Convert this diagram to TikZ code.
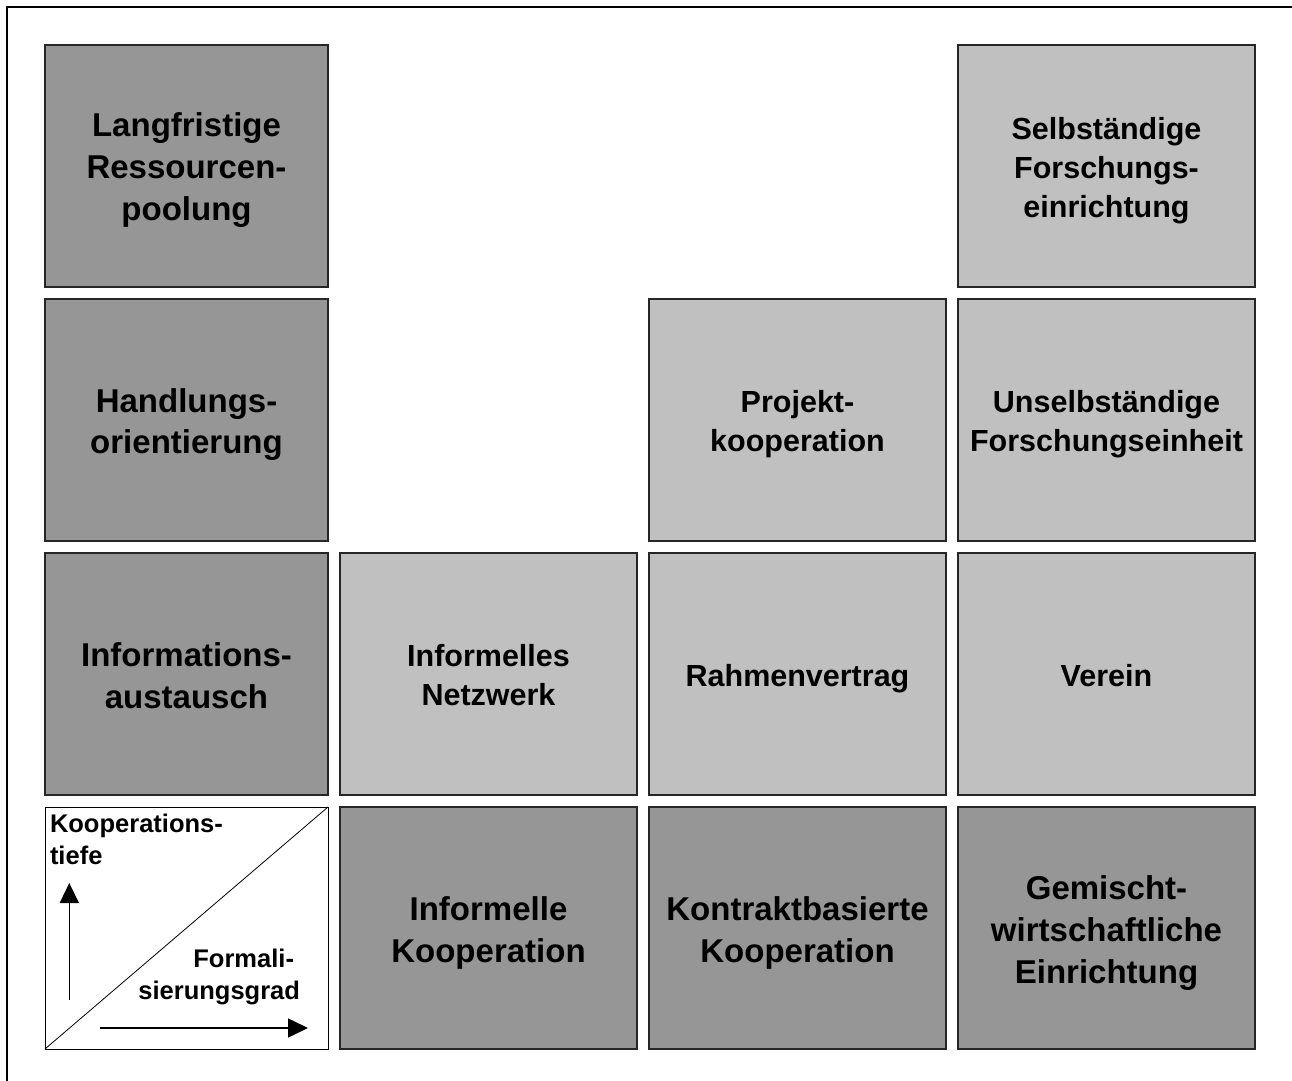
\documentclass[tikz,border=0pt]{standalone}
\usepackage{fontspec}
\setmainfont{Liberation Sans}
\usetikzlibrary{arrows.meta, positioning}
\definecolor{cellDark}{gray}{0.588}
\definecolor{cellLight}{gray}{0.753}
\newcommand{\celltext}[1]{\rule{0pt}{1em}#1\rule[-0.21em]{0pt}{0.21em}}
\tikzset{
  node distance=12bp,
  cell/.style={draw=black!85, line width=1.2bp, minimum width=297bp, minimum height=242bp, inner sep=0pt, outer sep=0pt, align=center},
  darkcell/.style={cell, fill=cellDark, font=\bfseries\fontsize{33bp}{42bp}\selectfont},
  lightcell/.style={cell, fill=cellLight, font=\bfseries\fontsize{30.5bp}{39bp}\selectfont},
  keycell/.style={cell, fill=white, draw=black, line width=1bp},
  keytext/.style={inner sep=0pt, outer sep=0pt, font=\bfseries\fontsize{25.5bp}{32bp}\selectfont},
  axis/.style={-{Triangle[width=19bp,length=20bp]}, line width=1.6bp}
}

\begin{document}
\begin{tikzpicture}[x=1bp, y=1bp]
  \useasboundingbox (0,0) rectangle (1292,1081);
  \draw[line width=1.3bp] (7,0) -- (7,1074) -- (1292,1074);

  % first column
  \node[darkcell, minimum width=283bp, anchor=north west] (pool) at (45,1036) {\celltext{Langfristige\\Ressourcen-\\poolung}};
  \node[darkcell, minimum width=283bp, below=of pool] (act) {\celltext{Handlungs-\\orientierung}};
  \node[darkcell, minimum width=283bp, below=of act] (info) {\celltext{Informations-\\austausch}};
  \node[keycell, minimum width=283bp, below=of info] (key) {};

  % bottom row
  \node[darkcell, right=of key] (infcoop) {\celltext{Informelle\\Kooperation}};
  \node[darkcell, right=of infcoop] (contract) {\celltext{Kontraktbasierte\\Kooperation}};
  \node[darkcell, right=of contract] (mixed) {\celltext{Gemischt-\\wirtschaftliche\\Einrichtung}};

  % light cells
  \node[lightcell, above=of infcoop] (network) {\celltext{Informelles\\Netzwerk}};
  \node[lightcell, above=of contract] (frame) {\celltext{Rahmenvertrag}};
  \node[lightcell, above=of mixed] (club) {\celltext{Verein}};
  \node[lightcell, above=of frame] (project) {\celltext{Projekt-\\kooperation}};
  \node[lightcell, above=of club] (unit) {\celltext{Unselbständige\\Forschungseinheit}};
  \node[lightcell, above=of unit] (inst) {\celltext{Selbständige\\Forschungs-\\einrichtung}};

  % legend cell
  \draw[line width=0.8bp] (key.south west) -- (key.north east);
  \node[keytext, align=left, below right=7.5bp and 5bp of key.north west] (depth) {Kooperations-\\tiefe};
  \node[keytext, align=right, above left=44bp and 28bp of key.south east] (formal) {Formali-\kern6bp\\sierungsgrad};

  \coordinate[above right=49bp and 24.3bp of key.south west] (depth0);
  \coordinate[above right=166bp and 24.3bp of key.south west] (depth1);
  \coordinate[above right=21bp and 55bp of key.south west] (formal0);
  \coordinate[above left=21bp and 20bp of key.south east] (formal1);
  \draw[axis] (depth0) -- (depth1);
  \draw[axis] (formal0) -- (formal1);

\end{tikzpicture}
\end{document}
